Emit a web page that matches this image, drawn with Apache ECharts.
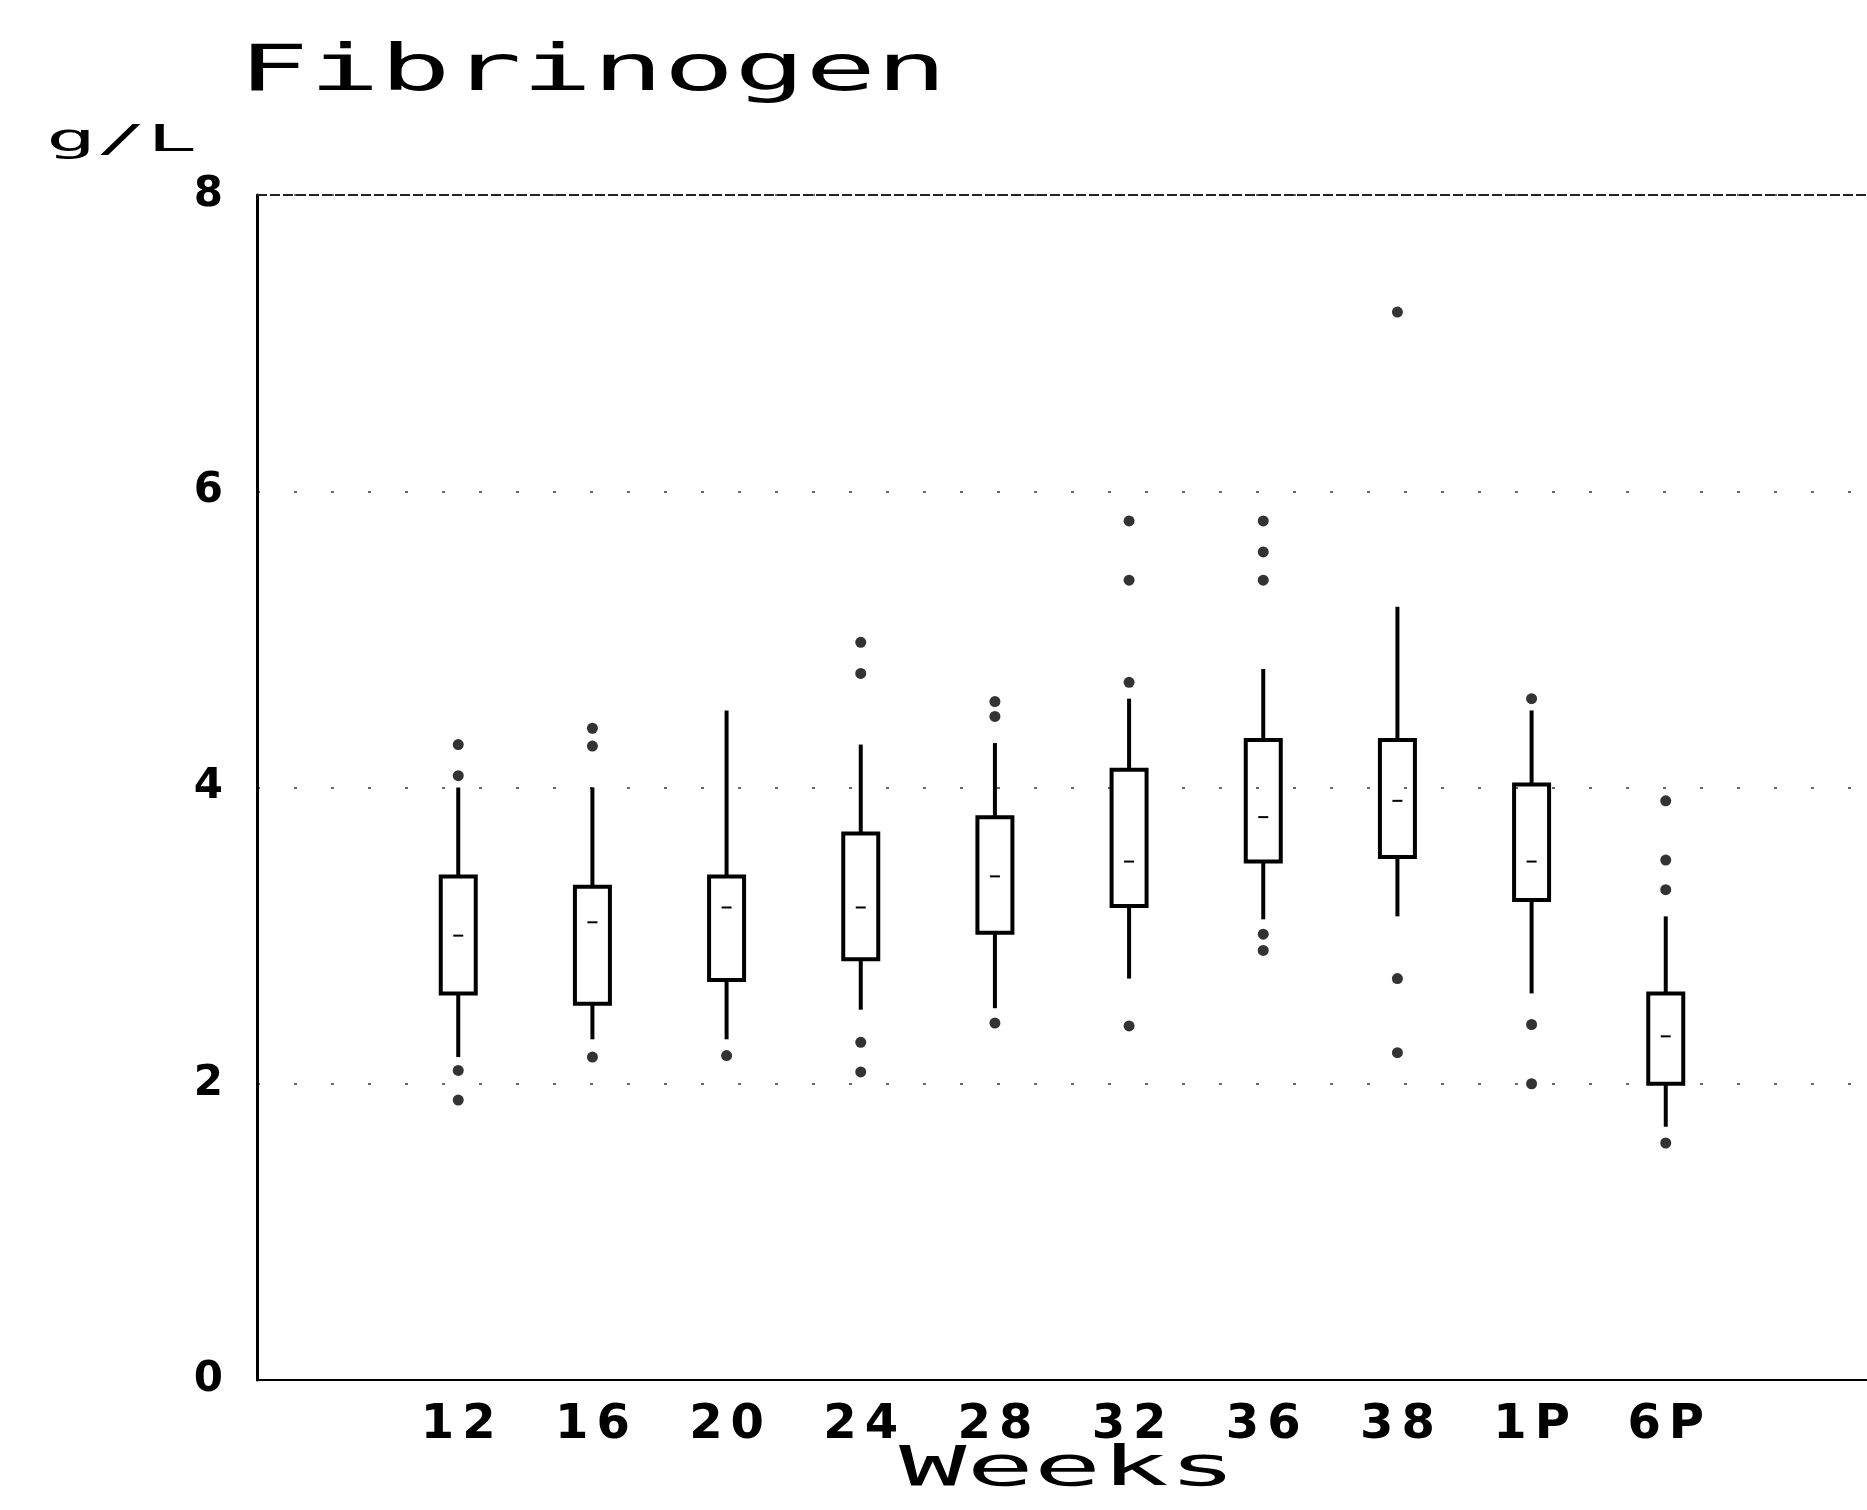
<!DOCTYPE html>
<html>
<head>
<meta charset="utf-8">
<script src="https://cdn.jsdelivr.net/npm/echarts@6/dist/echarts.min.js"></script>
<style>
html,body{margin:0;padding:0;background:#fff;}
#chart{width:1867px;height:1510px;}
</style>
</head>
<body>
<div id="chart"></div>
<script>
// ---- data (g/L) ----
const categories = ['12','16','20','24','28','32','36','38','1P','6P'];
const lowWhisker  = [2.18, 2.30, 2.30, 2.50, 2.51, 2.71, 3.11, 3.13, 2.61, 1.71];
const q1          = [2.61, 2.54, 2.70, 2.84, 3.02, 3.20, 3.50, 3.53, 3.24, 2.00];
const median      = [3.00, 3.09, 3.19, 3.19, 3.40, 3.50, 3.80, 3.91, 3.50, 2.32];
const q3          = [3.40, 3.33, 3.40, 3.69, 3.80, 4.12, 4.32, 4.32, 4.02, 2.61];
const highWhisker = [4.00, 4.00, 4.52, 4.29, 4.30, 4.60, 4.80, 5.22, 4.52, 3.13];
const outliers = [
  [4.29, 4.08, 2.09, 1.89],
  [4.40, 4.28, 2.18],
  [2.19],
  [4.98, 4.77, 2.28, 2.08],
  [4.58, 4.48, 2.41],
  [5.80, 5.40, 4.71, 2.39],
  [5.80, 5.59, 5.40, 3.01, 2.90],
  [7.21, 2.71, 2.21],
  [4.60, 2.40, 2.00],
  [3.91, 3.51, 3.31, 1.60]
];
const yTicks = [0, 2, 4, 6, 8];

// axis categories with one empty slot on each side
const axisCats = [''].concat(categories, [' ']);
const boxRows = categories.map((c, i) => [c, lowWhisker[i], q1[i], median[i], q3[i], highWhisker[i]]);
const outlierPts = [];
categories.forEach((c, i) => outliers[i].forEach(v => outlierPts.push([c, v])));

const MONO = '"DejaVu Sans Mono", "Liberation Mono", monospace';
const SANS = '"DejaVu Sans", "Liberation Sans", sans-serif';

function spaced(s) {
  return s.split('').map(ch => '{c|' + ch + '}').join('');
}

function renderBox(params, api) {
  const x = api.value(0);
  const lo = api.coord([x, api.value(1)]);
  const a = api.coord([x, api.value(2)]);
  const m = api.coord([x, api.value(3)]);
  const b = api.coord([x, api.value(4)]);
  const hi = api.coord([x, api.value(5)]);
  const w = 35;
  const st = {stroke: '#000', lineWidth: 4, fill: 'none'};
  return {
    type: 'group',
    children: [
      {type: 'rect', shape: {x: b[0] - w / 2, y: b[1], width: w, height: a[1] - b[1]}, style: st},
      {type: 'line', shape: {x1: hi[0], y1: hi[1], x2: b[0], y2: b[1]}, style: st},
      {type: 'line', shape: {x1: a[0], y1: a[1], x2: lo[0], y2: lo[1]}, style: st},
      {type: 'line', shape: {x1: m[0] - 5, y1: m[1], x2: m[0] + 5, y2: m[1]}, style: {stroke: '#000', lineWidth: 2}}
    ]
  };
}

const chart = echarts.init(document.getElementById('chart'), null, {renderer: 'canvas'});
chart.setOption({
  backgroundColor: '#fff',
  animation: false,
  grid: {left: 257, right: -10, top: 195, bottom: 130},
  graphic: [
    {type: 'text', x: 238, y: 41, scaleX: 1.84, style: {text: 'Fibrinogen', font: 'normal 64px ' + MONO, fill: '#000'}},
    {type: 'text', x: 46, y: 122, scaleX: 2.2, style: {text: 'g/L', font: 'normal 38px ' + MONO, fill: '#000'}},
    {type: 'text', x: 899, y: 1442, scaleX: 2.0, style: {text: 'Weeks', font: 'normal 56px ' + MONO, fill: '#000'}}
  ],
  xAxis: {
    type: 'category',
    data: axisCats,
    boundaryGap: true,
    axisLine: {show: true, lineStyle: {color: '#000', width: 2}},
    axisTick: {show: false},
    splitLine: {show: false},
    axisLabel: {
      interval: 0, margin: 22,
      formatter: v => spaced(v),
      rich: {c: {color: '#000', fontFamily: SANS, fontWeight: 'bold', fontSize: 48, padding: [0, 4]}}
    }
  },
  yAxis: {
    type: 'value',
    min: 0, max: 8, interval: 2,
    axisLine: {show: true, lineStyle: {color: '#000', width: 3}},
    axisTick: {show: false},
    axisLabel: {color: '#000', fontFamily: SANS, fontWeight: 'bold', fontSize: 42, margin: 34,
      formatter: v => yTicks.indexOf(v) >= 0 ? String(v) : ''},
    splitLine: {show: true, lineStyle: {color: '#666', width: 2, type: [3, 34]}}
  },
  series: [
    {
      type: 'custom',
      renderItem: renderBox,
      data: boxRows,
      encode: {x: 0, y: [1, 2, 3, 4, 5]},
      markLine: {
        silent: true, symbol: 'none', label: {show: false},
        lineStyle: {color: '#222', width: 2, type: [10, 3]},
        data: [{yAxis: 8}]
      },
      z: 3
    },
    {
      type: 'scatter',
      data: outlierPts,
      symbol: 'circle',
      symbolSize: 11,
      itemStyle: {color: '#000'},
      z: 4
    }
  ]
});
</script>
</body>
</html>
